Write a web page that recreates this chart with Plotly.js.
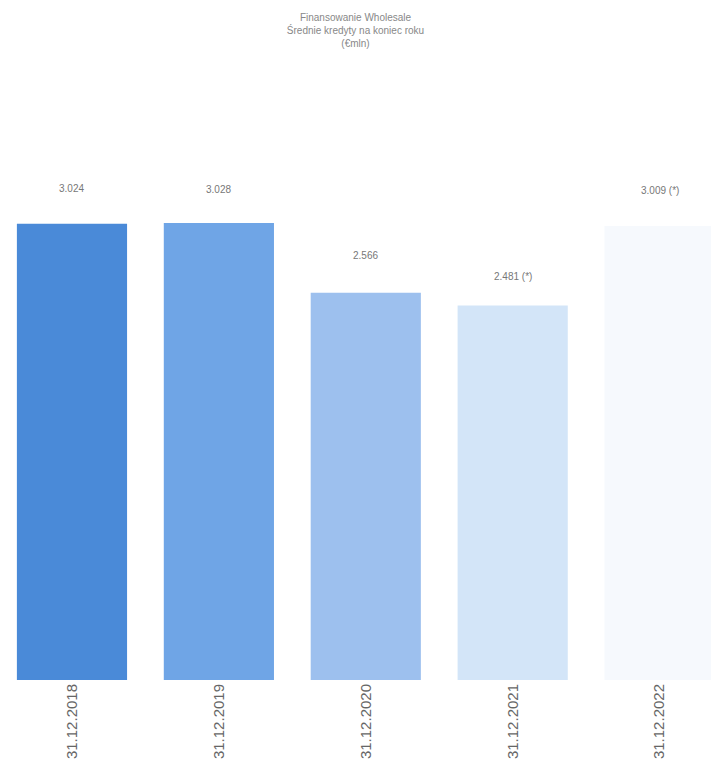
<!DOCTYPE html>
<html>
<head>
<meta charset="utf-8">
<script src="https://cdn.plot.ly/plotly-3.0.1.min.js"></script>
<style>
  html, body { margin: 0; padding: 0; background: #ffffff; }
  #chart { width: 711px; height: 771px; }
</style>
</head>
<body>
<div id="chart"></div>
<script>
// Wholesale financing: average loans at year end (€mln)
const dates = ["31.12.2018", "31.12.2019", "31.12.2020", "31.12.2021", "31.12.2022"];
const loans = [3024, 3028, 2566, 2481, 3009];
const valueLabels = ["3.024", "3.028", "2.566", "2.481 (*)", "3.009 (*)"];
const barColors = ["#4a8ad8", "#6fa5e6", "#9dc0ee", "#d3e5f8", "#f6f9fd"];
const labelShift = [28, 26, 30, 22, 28];

const trace = {
  type: "bar",
  x: dates,
  y: loans,
  width: 0.75,
  marker: { color: barColors, line: { width: 0 } },
  hoverinfo: "x+y"
};

const annotations = dates.map((d, i) => ({
  x: d,
  y: loans[i],
  xref: "x",
  yref: "y",
  text: valueLabels[i],
  showarrow: false,
  yanchor: "bottom",
  yshift: labelShift[i],
  font: { family: "Liberation Sans, Arial, sans-serif", size: 10, color: "#777777" }
}));

const layout = {
  width: 711,
  height: 771,
  paper_bgcolor: "#ffffff",
  plot_bgcolor: "#ffffff",
  margin: { l: 0, r: 0, t: 182, b: 91 },
  title: {
    text: "Finansowanie Wholesale<br>Średnie kredyty na koniec roku<br>(€mln)",
    x: 0.5,
    xanchor: "center",
    y: 0.973,
    yanchor: "top",
    font: { family: "Liberation Sans, Arial, sans-serif", size: 10, color: "#888888" }
  },
  xaxis: {
    type: "category",
    range: [-0.49, 4.35],
    showgrid: false,
    zeroline: false,
    showline: false,
    ticks: "",
    tickangle: -90,
    tickfont: { family: "Liberation Sans, Arial, sans-serif", size: 15, color: "#666666" }
  },
  yaxis: {
    range: [0, 3300],
    showgrid: false,
    zeroline: false,
    showline: false,
    showticklabels: false,
    ticks: ""
  },
  annotations: annotations,
  showlegend: false
};

Plotly.newPlot("chart", [trace], layout, { displayModeBar: false, staticPlot: true });
</script>
</body>
</html>
